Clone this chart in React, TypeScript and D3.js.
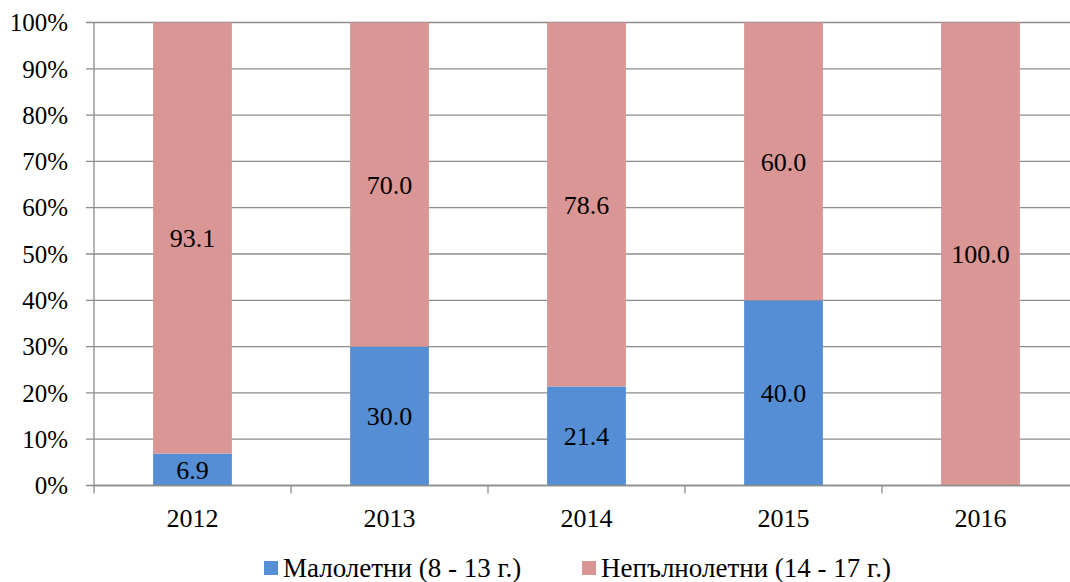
import React, { useEffect, useRef } from "react";
import * as d3 from "d3";

const years = ["2012", "2013", "2014", "2015", "2016"];
const minors = [6.9, 30.0, 21.4, 40.0, 0];
const juveniles = [93.1, 70.0, 78.6, 60.0, 100.0];
const seriesNames = ["Малолетни (8 - 13 г.)", "Непълнолетни (14 - 17 г.)"];
const yTicks = [0, 10, 20, 30, 40, 50, 60, 70, 80, 90, 100];

const App: React.FC = () => {
  const svgRef = useRef<SVGSVGElement | null>(null);

  useEffect(() => {
    if (!svgRef.current) return;
    const width = 1070;
    const left = 94;
    const top = 22.5;
    const bottom = 485.5;
    const font = "Liberation Serif";
    const colors = ["#558ED5", "#D99694"];
    const gridColor = "#8C8C8C";

    const svg = d3.select(svgRef.current);
    svg.selectAll("*").remove();

    const x = d3
      .scaleBand()
      .domain(years)
      .range([left, left + 5 * 197])
      .paddingInner(0.6)
      .paddingOuter(0.3);
    const step = x.step();

    const y = d3.scaleLinear().domain([0, 100]).range([bottom, top]);

    // gridlines
    svg
      .append("g")
      .selectAll("line")
      .data(yTicks)
      .join("line")
      .attr("x1", left - 8)
      .attr("x2", width)
      .attr("y1", (d) => y(d))
      .attr("y2", (d) => y(d))
      .attr("stroke", gridColor)
      .attr("stroke-width", 1.3);

    // y tick labels
    svg
      .append("g")
      .selectAll("text")
      .data(yTicks)
      .join("text")
      .attr("x", 68)
      .attr("y", (d) => y(d))
      .attr("dy", "0.35em")
      .attr("text-anchor", "end")
      .style("font-family", font)
      .style("font-size", "25px")
      .attr("fill", "#000")
      .text((d) => `${d}%`);

    const stacked = years.map((yr, i) => ({
      year: yr,
      segs: [
        { v0: 0, v1: minors[i], val: minors[i], c: 0 },
        { v0: minors[i], v1: minors[i] + juveniles[i], val: juveniles[i], c: 1 },
      ],
    }));

    const groups = svg
      .append("g")
      .selectAll("g")
      .data(stacked)
      .join("g");

    groups
      .selectAll("rect")
      .data((d) => d.segs.filter((s) => s.val > 0).map((s) => ({ ...s, year: d.year })))
      .join("rect")
      .attr("x", (d) => x(d.year) || 0)
      .attr("width", x.bandwidth())
      .attr("y", (d) => y(d.v1))
      .attr("height", (d) => y(d.v0) - y(d.v1))
      .attr("fill", (d) => colors[d.c]);

    groups
      .selectAll("text")
      .data((d) => d.segs.filter((s) => s.val > 0).map((s) => ({ ...s, year: d.year })))
      .join("text")
      .attr("x", (d) => (x(d.year) || 0) + x.bandwidth() / 2)
      .attr("y", (d) => y((d.v0 + d.v1) / 2))
      .attr("dy", "0.35em")
      .attr("text-anchor", "middle")
      .style("font-family", font)
      .style("font-size", "26px")
      .attr("fill", "#000")
      .text((d) => d.val.toFixed(1));

    // axes lines
    svg
      .append("line")
      .attr("x1", left)
      .attr("x2", left)
      .attr("y1", top)
      .attr("y2", bottom + 8)
      .attr("stroke", gridColor)
      .attr("stroke-width", 1.3);

    svg
      .append("line")
      .attr("x1", left)
      .attr("x2", width)
      .attr("y1", bottom)
      .attr("y2", bottom)
      .attr("stroke", gridColor)
      .attr("stroke-width", 1.3);

    // category boundary ticks
    svg
      .append("g")
      .selectAll("line")
      .data(years.slice(1))
      .join("line")
      .attr("x1", (d) => (x(d) || 0) - (step - x.bandwidth()) / 2)
      .attr("x2", (d) => (x(d) || 0) - (step - x.bandwidth()) / 2)
      .attr("y1", bottom)
      .attr("y2", bottom + 8)
      .attr("stroke", gridColor)
      .attr("stroke-width", 1.3);

    // x labels
    svg
      .append("g")
      .selectAll("text")
      .data(years)
      .join("text")
      .attr("x", (d) => (x(d) || 0) + x.bandwidth() / 2)
      .attr("y", 527)
      .attr("text-anchor", "middle")
      .style("font-family", font)
      .style("font-size", "26px")
      .attr("fill", "#000")
      .text((d) => d);

    // legend
    const legendX = [264, 582];
    seriesNames.forEach((name, i) => {
      const g = svg.append("g").attr("transform", `translate(${legendX[i]},0)`);
      g.append("rect")
        .attr("x", 0)
        .attr("y", 561)
        .attr("width", 14)
        .attr("height", 14)
        .attr("fill", colors[i]);
      g.append("text")
        .attr("x", 19)
        .attr("y", 577)
        .style("font-family", font)
        .style("font-size", "27px")
        .attr("fill", "#000")
        .text(name);
    });
  }, []);

  return (
    <svg
      ref={svgRef}
      width={1070}
      height={582}
      style={{ position: "absolute", left: 0, top: 0, background: "#fff" }}
    />
  );
};

export default App;
